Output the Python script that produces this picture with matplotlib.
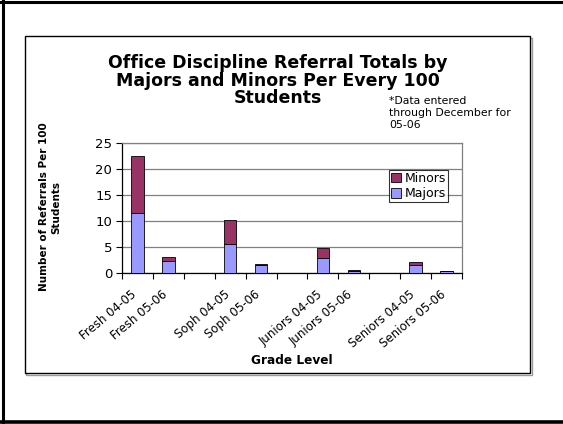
import numpy as np
import matplotlib
matplotlib.use("Agg")
import matplotlib.pyplot as plt
from matplotlib.patches import Rectangle, Patch
from matplotlib.lines import Line2D

# referrals per 100 students, blank slots separate the grade groups
categories = ["Fresh 04-05", "Fresh 05-06", "",
              "Soph 04-05", "Soph 05-06", "",
              "Juniors 04-05", "Juniors 05-06", "",
              "Seniors 04-05", "Seniors 05-06"]
majors = [11.6, 2.4, 0, 5.6, 1.5, 0, 2.9, 0.4, 0, 1.6, 0.3]
minors = [11.0, 0.7, 0, 4.7, 0.25, 0, 1.85, 0.2, 0, 0.45, 0.1]
yticks = [0, 5, 10, 15, 20, 25]
title_lines = ["Office Discipline Referral Totals by",
               "Majors and Minors Per Every 100",
               "Students"]

W, H = 563, 424
plt.rcParams['font.family'] = ['DejaVu Sans']
fig = plt.figure(figsize=(W / 100, H / 100), dpi=100)

# slide frame (left, top, bottom edges)
fig.add_artist(Line2D([3 / W, 3 / W], [0, 1], color="black", lw=2.2, zorder=-3))
fig.add_artist(Line2D([0, 1], [1 - 1.5 / H, 1 - 1.5 / H], color="black", lw=2.2, zorder=-3))
fig.add_artist(Line2D([0, 1], [1.8 / H, 1.8 / H], color="black", lw=2.6, zorder=-3))

# chart area box with a small shadow
bx0, by0, bx1, by1 = 24.5, 36, 530, 373
fig.add_artist(Rectangle((bx0 / W + 1.5 / W, 1 - by1 / H - 1.5 / H), (bx1 - bx0) / W, (by1 - by0) / H,
                         facecolor="none", edgecolor="#9a9a9a", lw=1.0, zorder=-2))
fig.add_artist(Rectangle((bx0 / W, 1 - by1 / H), (bx1 - bx0) / W, (by1 - by0) / H,
                         facecolor="white", edgecolor="black", lw=1.0, zorder=-1))

ax = fig.add_axes([122 / W, 1 - 273 / H, (462 - 122) / W, (273 - 143.3) / H])
ax.patch.set_alpha(0)

x = np.arange(len(categories))
keep = [i for i, c in enumerate(categories) if c]
xm = x[keep]
maj = np.array(majors)[keep]
mnr = np.array(minors)[keep]
ax.bar(xm, maj, width=0.4, color="#9999FF", edgecolor="black", lw=0.6, zorder=3)
ax.bar(xm, mnr, width=0.4, bottom=maj, color="#993366", edgecolor="black", lw=0.6, zorder=3)

ax.set_xlim(-0.5, len(categories) - 0.5)
ax.set_ylim(0, 25)
ax.set_yticks(yticks)
ax.yaxis.grid(True, color="#808080", lw=0.9, zorder=0)
ax.set_axisbelow(True)
ax.tick_params(axis="y", direction="out", length=4, width=0.8, labelsize=9.5, pad=3)

# ticks between categories; the slanted labels end just left of each bar
ax.set_xticks(np.arange(len(categories) + 1) - 0.5)
ax.set_xticklabels([])
ax.tick_params(axis="x", which="major", direction="out", length=4, width=0.8)
ax.set_xticks(x - 0.21, minor=True)
ax.set_xticklabels(categories, minor=True, rotation=40, ha="right", va="top",
                   rotation_mode="anchor", fontsize=8.5)
ax.tick_params(axis="x", which="minor", length=0, pad=10.5)

for s in ["left", "bottom"]:
    ax.spines[s].set_color("black")
    ax.spines[s].set_linewidth(0.9)
for s in ["top", "right"]:
    ax.spines[s].set_color("#808080")
    ax.spines[s].set_linewidth(0.9)

handles = [Patch(facecolor="#993366", edgecolor="black", lw=0.6, label="Minors"),
           Patch(facecolor="#9999FF", edgecolor="black", lw=0.6, label="Majors")]
leg = ax.legend(handles=handles, loc="upper left", bbox_to_anchor=(389 / W, 1 - 170 / H),
                bbox_transform=fig.transFigure, fontsize=9, frameon=True, fancybox=False,
                handlelength=0.8, handleheight=0.8, handletextpad=0.3, borderpad=0.15,
                labelspacing=0.2, borderaxespad=0)
leg.get_frame().set_edgecolor("black")
leg.get_frame().set_linewidth(0.8)

for i, line in enumerate(title_lines):
    fig.text(278 / W, 1 - (63 + 17.5 * i) / H, line, ha="center", va="center",
             fontsize=12.5, fontweight="bold")
fig.text(389 / W, 1 - 96 / H, "*Data entered\nthrough December for\n05-06",
         ha="left", va="top", fontsize=7.8, linespacing=1.25)
fig.text(50 / W, 1 - 207 / H, "Number of Referrals Per 100\nStudents", rotation=90,
         ha="center", va="center", fontsize=7.5, fontweight="bold", multialignment="center")
fig.text(292 / W, 1 - 361 / H, "Grade Level", ha="center", va="center", fontsize=8.7, fontweight="bold")

fig.savefig("out.png", dpi=100)
